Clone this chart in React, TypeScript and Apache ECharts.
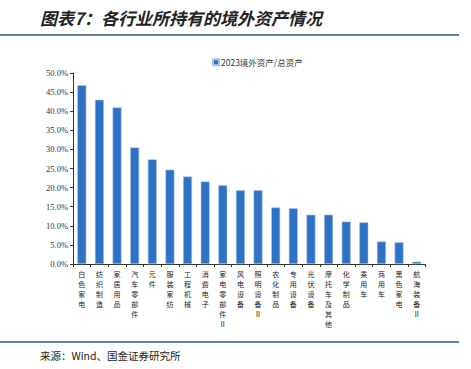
import React, { useEffect, useRef } from "react";
import * as echarts from "echarts";

const categories = [
  "白色家电", "纺织制造", "家居用品", "汽车零部件", "元件", "服装家纺", "工程机械",
  "消费电子", "家电零部件Ⅱ", "风电设备", "照明设备Ⅱ", "农化制品", "专用设备", "光伏设备",
  "摩托车及其他", "化学制品", "乘用车", "商用车", "黑色家电", "航海装备Ⅱ",
];
const values = [
  46.8, 43.0, 41.0, 30.5, 27.4, 24.7, 22.9, 21.6, 20.6, 19.3,
  19.3, 14.8, 14.6, 12.9, 12.9, 11.1, 10.9, 5.9, 5.7, 0.6,
];
const seriesName = "2023境外资产/总资产";
const titleText = "图表7：各行业所持有的境外资产情况";
const sourceText = "来源：Wind、国金证券研究所";

export default function App() {
  const ref = useRef<HTMLDivElement>(null);
  useEffect(() => {
    if (!ref.current) return;
    const chart = echarts.init(ref.current, undefined, { renderer: "svg" });
    chart.setOption({
      animation: false,
      backgroundColor: "#fff",
      grid: { left: 73, right: 45.5, top: 73, bottom: 105, containLabel: false },
      legend: {
        left: 207,
        top: 53,
        icon: "rect",
        itemWidth: 6,
        itemHeight: 6,
        itemGap: 2,
        textStyle: { fontSize: 8.5, color: "#333", fontFamily: "Noto Sans CJK SC", padding: [0, 0, 0, -3] },
        data: [seriesName],
      },
      graphic: [
        {
          type: "text",
          left: 40,
          top: 9,
          style: {
            text: titleText,
            fontSize: 17,
            fontWeight: "bold",
            fontStyle: "italic",
            fontFamily: "Noto Sans CJK SC",
            fill: "#222",
          },
        },
        { type: "rect", shape: { x: 0, y: 34, width: 459, height: 2 }, style: { fill: "#5686A4" } },
        { type: "rect", shape: { x: 0, y: 341, width: 459, height: 2 }, style: { fill: "#5686A4" } },
        {
          type: "text",
          left: 40,
          top: 350,
          style: { text: sourceText, fontSize: 10.5, fontFamily: "Noto Sans CJK SC", fill: "#222" },
        },
      ],
      xAxis: {
        type: "category",
        data: categories,
        axisLine: { lineStyle: { color: "#333", width: 1 } },
        axisTick: { show: true, alignWithLabel: false, length: 3, lineStyle: { color: "#333" } },
        axisLabel: {
          interval: 0,
          margin: 5,
          fontSize: 7,
          lineHeight: 10,
          color: "#222",
          fontFamily: "Noto Sans CJK SC",
          verticalAlign: "top",
          formatter: (v: string) => Array.from(v).join("\n"),
        },
      },
      yAxis: {
        type: "value",
        min: 0,
        max: 50,
        interval: 5,
        splitLine: { show: false },
        axisLine: { show: true, lineStyle: { color: "#333" } },
        axisTick: { show: true, length: 3, lineStyle: { color: "#333" } },
        axisLabel: {
          fontSize: 8.5,
          color: "#333",
          margin: 5,
          fontFamily: "Liberation Serif",
          formatter: (v: number) => v.toFixed(1) + "%",
        },
      },
      series: [
        {
          name: seriesName,
          type: "bar",
          data: values,
          barWidth: 9,
          itemStyle: { color: "#2E72C5", borderColor: "#A9C6EA", borderWidth: 0.6 },
        },
      ],
    });
    return () => chart.dispose();
  }, []);
  return (
    <div
      ref={ref}
      style={{ position: "absolute", left: 0, top: 0, width: 471, height: 369 }}
    />
  );
}
